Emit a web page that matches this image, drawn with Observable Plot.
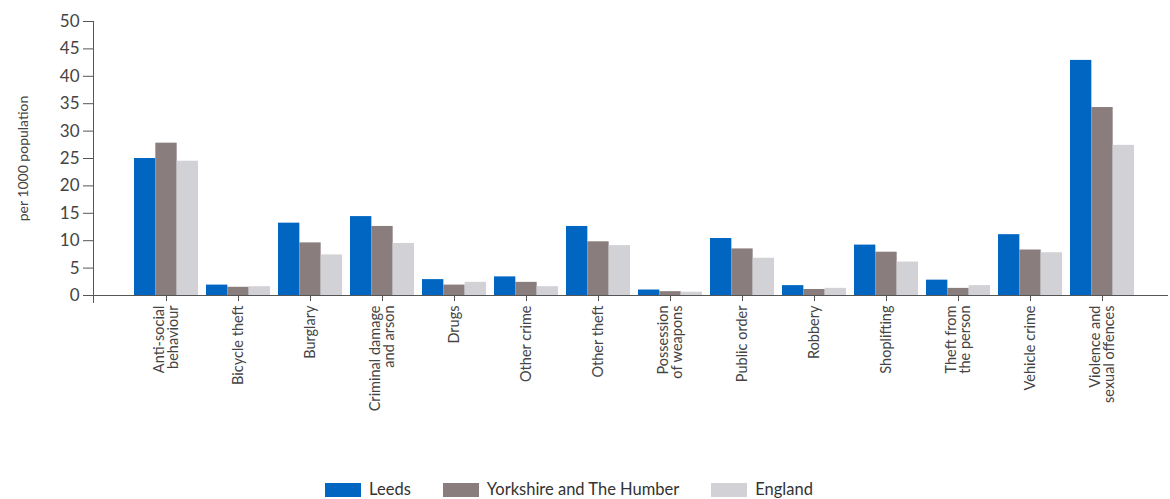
<!DOCTYPE html>
<html><head><meta charset="utf-8">
<script src="https://cdn.jsdelivr.net/npm/d3@7"></script>
<script src="https://cdn.jsdelivr.net/npm/@observablehq/plot@0.6"></script>
<style>
body{margin:0;background:#fff;font-family:Lato,sans-serif;}
#chart{width:1170px;}
.lg-swatches{justify-content:center !important; min-height:0 !important; margin:11px 0 0 0 !important; font-family:Lato,sans-serif !important; font-size:16.5px !important; line-height:17px !important; color:#333 !important;}
.lg-swatch{margin-right:32px !important;}
.lg-swatch svg{margin-right:8px !important;}
</style></head><body><div id="chart"></div>
<script>
const categories = ["Anti-social\nbehaviour","Bicycle theft","Burglary","Criminal damage\nand arson","Drugs","Other crime","Other theft","Possession\nof weapons","Public order","Robbery","Shoplifting","Theft from\nthe person","Vehicle crime","Violence and\nsexual offences"];
const seriesNames = ["Leeds","Yorkshire and The Humber","England"];
const leeds     = [25.0, 1.9, 13.2, 14.4, 2.9, 3.4, 12.6, 1.0, 10.4, 1.8, 9.2, 2.8, 11.1, 42.9];
const yorkshire = [27.8, 1.5,  9.6, 12.6, 1.9, 2.4,  9.8, 0.7,  8.5, 1.1, 7.9, 1.3,  8.3, 34.3];
const england   = [24.5, 1.6,  7.4,  9.5, 2.4, 1.6,  9.1, 0.6,  6.8, 1.3, 6.1, 1.8,  7.8, 27.4];
const yTicks = [0,5,10,15,20,25,30,35,40,45,50];
const colors = ["#0066c2","#8a7d7d","#d1d1d6"];

const seriesValues = [leeds, yorkshire, england];
const rows = categories.flatMap((c, i) => seriesNames.map((s, j) => ({category: c, series: s, value: seriesValues[j][i]})));

const layout = {width: 1170, height: 470, marginLeft: 93, marginRight: 2, marginTop: 21, marginBottom: 175};
const xOpts = {domain: categories, paddingInner: 0.115, paddingOuter: 0.49, align: 0.55, label: null};

// read the band width from the library's own x scale
const probe = Plot.plot({...layout, x: xOpts, y: {domain: [0, 50]}, marks: [Plot.barY(rows, {x: "category", y: "value"})]});
const bw = probe.scale("x").bandwidth;
const part = bw / seriesNames.length;

const chart = Plot.plot({
  ...layout,
  style: {fontFamily: "Lato, sans-serif", fontSize: "14px", color: "#444", background: "#fff"},
  x: xOpts,
  y: {domain: [0, 50]},
  color: {domain: seriesNames, range: colors},
  marks: [
    ...seriesNames.map((s, j) => Plot.barY(rows.filter(d => d.series === s), {
      x: "category", y: "value", fill: "series",
      insetLeft: j * part, insetRight: (seriesNames.length - 1 - j) * part
    })),
    Plot.axisY({ticks: yTicks, tickSize: 10, tickPadding: 4, stroke: "#555", fontSize: 17, label: null}),
    Plot.axisY({ticks: [], label: "per 1000 population", labelAnchor: "center", labelArrow: "none", labelOffset: 75, fontSize: 14}),
    Plot.axisX({anchor: "bottom", tickRotate: -90, tickSize: 6, tickPadding: 4, stroke: "#555", fontSize: 14.5, label: null}),
    Plot.ruleY([0], {stroke: "#555"}),
    Plot.frame({anchor: "left", stroke: "#555", insetBottom: -7})
  ]
});
document.getElementById("chart").appendChild(chart);
const legend = Plot.legend({color: {domain: seriesNames, range: colors}, swatchWidth: 36, swatchHeight: 14, className: "lg"});
document.getElementById("chart").appendChild(legend);
</script></body></html>
